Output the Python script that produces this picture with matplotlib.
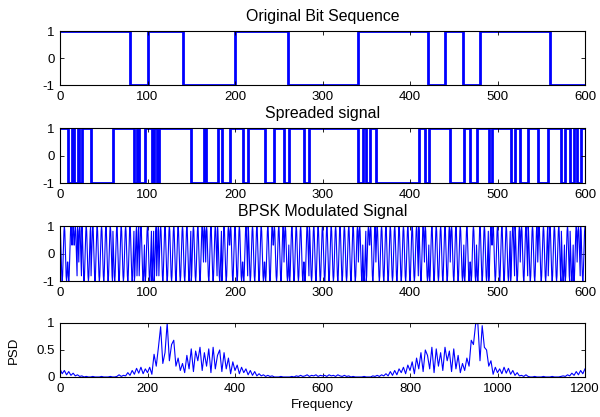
import numpy as np
import matplotlib.pyplot as plt

plt.rcParams['font.family'] = ['Liberation Sans', 'DejaVu Sans']
plt.rcParams['font.size'] = 9.5
plt.rcParams['axes.unicode_minus'] = False

# original data bits, 20 samples each
bits = [1, 1, 1, 1, 0, 1, 1, 0, 0, 0, 1, 1, 1, 0, 0, 0, 0, 1, 1, 1, 1, 0, 1, 0, 1, 1, 1, 1, 0, 0]
bit_len = 20

# spreaded signal: switching points, level starts at +1
spread_edges = [0, 9, 14, 16.5, 20, 22, 25, 35.5, 60.5, 85, 88, 90.5, 97, 105, 107.5,
                110.5, 113, 150, 164.5, 167, 180, 185, 194, 209, 215, 234, 244, 256, 262,
                279, 285, 341, 346, 350, 354, 361, 410, 417, 422, 446, 462, 469, 476, 490,
                494, 515, 520, 526, 535, 546, 558, 573, 577, 583, 587, 591, 595, 600]
spread_levels = [1 if i % 2 == 0 else -1 for i in range(len(spread_edges) - 1)]

# one carrier period (5 time units, sampled every 0.5)
carrier_cycle = [1.0, 0.81, 0.31, -0.31, -0.81, -1.0, -0.81, -0.31, 0.31, 0.81]
step = 0.5

# PSD, read every 5 Hz
psd_low = [0.15, 0.06, 0.12, 0.04, 0.10, 0.03, 0.07, 0.02, 0.04, 0.01,   # 0-45
           0.02, 0.00, 0.01, 0.00, 0.00, 0.01, 0.00, 0.00, 0.00, 0.01,   # 50-95
           0.00, 0.00, 0.00, 0.01, 0.00, 0.00, 0.01, 0.04, 0.01, 0.03,   # 100-145
           0.02, 0.08, 0.03, 0.12, 0.05, 0.16, 0.07, 0.18, 0.06, 0.15,   # 150-195
           0.08, 0.18, 0.05, 0.42, 0.20, 0.55, 0.93, 0.25, 0.45, 1.00,   # 200-245
           0.30, 0.60, 0.68, 0.20, 0.35, 0.12, 0.25, 0.08, 0.40, 0.15,   # 250-295
           0.52, 0.10, 0.48, 0.30, 0.55, 0.12, 0.45, 0.20, 0.52, 0.08,   # 300-345
           0.55, 0.15, 0.40, 0.50, 0.10, 0.45, 0.15, 0.35, 0.06, 0.28,   # 350-395
           0.12, 0.22, 0.06, 0.18, 0.08, 0.15, 0.04, 0.12, 0.03, 0.10,   # 400-445
           0.02, 0.06, 0.02, 0.04, 0.01, 0.03, 0.01, 0.02, 0.00, 0.00,   # 450-495
           0.00, 0.01, 0.00, 0.00, 0.00, 0.00, 0.01, 0.00, 0.02, 0.01,   # 500-545
           0.03, 0.01, 0.02, 0.04, 0.01, 0.03, 0.02, 0.04, 0.01, 0.03,   # 550-595
           0.02]                                                         # 600
psd_high = [0.03, 0.01, 0.04, 0.02, 0.03, 0.01, 0.04, 0.02, 0.01, 0.03,  # 605-650
            0.01, 0.02, 0.00, 0.01, 0.00, 0.00, 0.00, 0.00, 0.01, 0.00,  # 655-700
            0.00, 0.00, 0.02, 0.01, 0.03, 0.01, 0.04, 0.02, 0.06, 0.02,  # 705-750
            0.10, 0.03, 0.12, 0.04, 0.15, 0.08, 0.18, 0.06, 0.22, 0.12,  # 755-800
            0.28, 0.06, 0.35, 0.15, 0.45, 0.10, 0.50, 0.40, 0.15, 0.55,  # 805-850
            0.08, 0.52, 0.20, 0.45, 0.12, 0.55, 0.30, 0.48, 0.10, 0.52,  # 855-900
            0.15, 0.40, 0.08, 0.25, 0.12, 0.35, 0.20, 0.68, 0.60, 0.98,  # 905-950
            1.00, 0.30, 0.95, 0.55, 0.50, 0.20, 0.30, 0.05, 0.18, 0.08,  # 955-1000
            0.15, 0.06, 0.18, 0.07, 0.16, 0.05, 0.12, 0.03, 0.08, 0.02,  # 1005-1050
            0.03, 0.01, 0.04, 0.01, 0.00, 0.00, 0.01, 0.00, 0.00, 0.00,  # 1055-1100
            0.01, 0.00, 0.00, 0.00, 0.01, 0.00, 0.00, 0.00, 0.01, 0.02,  # 1105-1150
            0.01, 0.04, 0.02, 0.07, 0.03, 0.10, 0.04, 0.12, 0.06, 0.15]  # 1155-1200
psd = psd_low + psd_high
freq = np.arange(len(psd)) * 5

# BPSK from chips and carrier
t = np.arange(0, 600 + step, step)
idx = np.clip(np.searchsorted(spread_edges, t, side='right') - 1, 0, len(spread_levels) - 1)
chips = np.array(spread_levels)[idx]
carrier = np.tile(carrier_cycle, len(t) // len(carrier_cycle) + 1)[:len(t)]
bpsk = chips * carrier

fig = plt.figure(figsize=(6, 4.17), dpi=100)
left, width = 0.1, 0.875
ax1 = fig.add_axes([left, 0.796, width, 0.1295])
ax2 = fig.add_axes([left, 0.561, width, 0.132])
ax3 = fig.add_axes([left, 0.326, width, 0.132])
ax4 = fig.add_axes([left, 0.096, width, 0.1295])

bit_edges = np.arange(len(bits) + 1) * bit_len
ax1.stairs([2 * b - 1 for b in bits], bit_edges, baseline=None, color='blue', linewidth=2)
ax1.set_title('Original Bit Sequence', pad=7.5)

ax2.stairs(spread_levels, spread_edges, baseline=None, color='blue', linewidth=2)
ax2.set_title('Spreaded signal', pad=7.5)

ax3.plot(t, bpsk, color='blue', linewidth=0.8)
ax3.set_title('BPSK Modulated Signal', pad=7.5)

ax4.plot(freq, psd, color='blue', linewidth=0.8)
ax4.set_xlabel('Frequency', labelpad=3)
ax4.set_ylabel('PSD', labelpad=12)

for ax in (ax1, ax2, ax3):
    ax.set_xlim(0, 600)
    ax.set_ylim(-1, 1)
    ax.set_xticks(range(0, 601, 100))
    ax.set_yticks([-1, 0, 1])
ax4.set_xlim(0, 1200)
ax4.set_ylim(0, 1)
ax4.set_xticks(range(0, 1201, 200))
ax4.set_yticks([0, 0.5, 1])
ax4.set_yticklabels(['0', '0.5', '1'])

for ax in (ax1, ax2, ax3, ax4):
    ax.tick_params(direction='in', top=True, right=True, length=3, width=0.6)
    ax.tick_params(axis='x', pad=4.5)
    ax.tick_params(axis='y', pad=4)
    for s in ax.spines.values():
        s.set_linewidth(0.8)

plt.savefig('out.png', dpi=100)
